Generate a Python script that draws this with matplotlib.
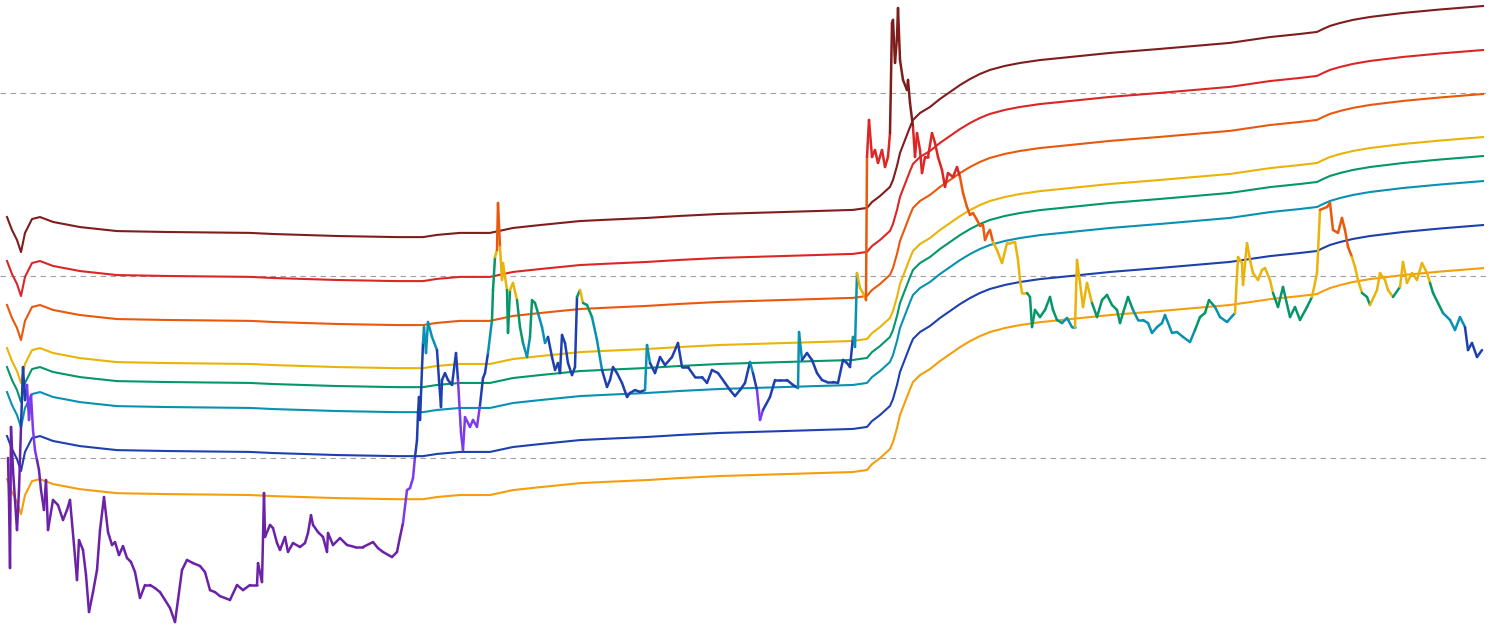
import numpy as np
import matplotlib.pyplot as plt
from matplotlib.collections import LineCollection

# day index and log10(price) (gridlines at 1, 10, 100)
band_day = [7, 12, 17, 21, 25, 32, 40, 53, 80, 117,
            167, 250, 273, 337, 397, 423, 437, 460, 490, 513,
            540, 580, 610, 647, 680, 720, 787, 853, 867, 872,
            880, 890, 893, 897, 900, 905, 910, 913, 920, 930,
            940, 950, 960, 970, 980, 990, 1005, 1020, 1040, 1060,
            1110, 1160, 1230, 1270, 1300, 1317, 1323, 1330, 1340, 1353,
            1370, 1403, 1440, 1483]
band_top_log = [1.322, 1.251, 1.196, 1.130, 1.235, 1.311, 1.322, 1.295, 1.267, 1.245,
                1.240, 1.235, 1.229, 1.218, 1.212, 1.212, 1.224, 1.235, 1.235, 1.262,
                1.278, 1.300, 1.308, 1.317, 1.328, 1.339, 1.350, 1.361, 1.372, 1.404,
                1.437, 1.487, 1.525, 1.602, 1.673, 1.744, 1.815, 1.854, 1.892, 1.925,
                1.969, 2.007, 2.045, 2.078, 2.106, 2.128, 2.150, 2.166, 2.182, 2.193,
                2.221, 2.243, 2.276, 2.308, 2.325, 2.336, 2.352, 2.369, 2.385, 2.402,
                2.418, 2.440, 2.459, 2.478]
# each band sits a fixed number of decades under the top one
band_offsets = [0, 0.241, 0.482, 0.718, 0.822, 0.959, 1.200, 1.436]
band_colors = ['#7f1d1d', '#dc2626', '#ea580c', '#eab308',
               '#059669', '#0891b2', '#1e40af', '#f59e0b']

price_day = [8, 9, 10, 11, 13, 15, 17, 19, 21, 23,
             25, 27, 29, 31, 33, 35, 37, 39, 41, 44,
             46, 48, 53, 58, 63, 67, 70, 74, 77, 79,
             83, 86, 89, 93, 97, 100, 104, 108, 112, 115,
             119, 123, 127, 131, 135, 140, 145, 150, 155, 160,
             165, 170, 175, 178, 182, 187, 193, 200, 205, 210,
             215, 220, 230, 237, 243, 250, 257, 258, 262, 264,
             265, 270, 273, 277, 280, 285, 288, 293, 300, 305,
             308, 311, 313, 318, 323, 327, 328, 333, 340, 347,
             355, 363, 373, 378, 383, 392, 397, 400, 403, 407,
             410, 413, 415, 417, 418, 419, 420, 423, 424, 426,
             428, 432, 437, 439, 441, 442, 445, 448, 452, 456,
             458, 461, 463, 465, 470, 473, 477, 480, 483, 485,
             488, 492, 493, 495, 497, 498, 500, 502, 503, 507,
             508, 510, 513, 517, 520, 523, 527, 530, 532, 535,
             538, 542, 545, 548, 552, 555, 558, 560, 562, 565,
             568, 572, 575, 577, 580, 583, 587, 592, 597, 602,
             607, 610, 613, 617, 622, 627, 630, 635, 640, 645,
             647, 650, 655, 660, 665, 672, 678, 682, 688, 695,
             702, 707, 712, 718, 725, 730, 735, 740, 745, 750,
             753, 757, 760, 763, 770, 775, 780, 787, 793, 798,
             799, 802, 807, 812, 817, 822, 827, 833, 838, 843,
             847, 850, 853, 855, 857, 860, 863, 866, 867, 869,
             872, 875, 878, 882, 885, 888, 890, 892, 893, 895,
             897, 898, 900, 903, 907, 908, 910, 913, 915, 917,
             920, 922, 925, 928, 932, 935, 938, 942, 945, 948,
             953, 957, 960, 963, 967, 970, 973, 977, 980, 983,
             985, 988, 990, 993, 997, 1002, 1007, 1010, 1015, 1018,
             1020, 1022, 1027, 1030, 1032, 1035, 1040, 1045, 1050, 1053,
             1057, 1062, 1067, 1072, 1075, 1077, 1080, 1083, 1087, 1092,
             1097, 1102, 1107, 1112, 1117, 1120, 1123, 1128, 1133, 1138,
             1143, 1148, 1152, 1157, 1162, 1165, 1172, 1177, 1183, 1190,
             1195, 1200, 1205, 1209, 1215, 1220, 1227, 1235, 1238, 1242,
             1243, 1247, 1250, 1253, 1258, 1262, 1265, 1270, 1273, 1278,
             1283, 1290, 1295, 1300, 1307, 1312, 1317, 1320, 1327, 1330,
             1333, 1338, 1342, 1345, 1348, 1352, 1355, 1358, 1362, 1367,
             1370, 1377, 1380, 1385, 1388, 1393, 1400, 1403, 1407, 1412,
             1417, 1422, 1427, 1430, 1433, 1438, 1443, 1450, 1455, 1460,
             1465, 1468, 1472, 1477, 1482]
price_log = [0.002, -0.228, -0.601, 0.172, -0.064, -0.228, -0.393, -0.174, 0.172, 0.500,
             0.319, 0.402, 0.210, 0.347, 0.155, 0.045, -0.009, -0.064, -0.174, -0.283,
             -0.119, -0.393, -0.228, -0.256, -0.338, -0.283, -0.228, -0.475, -0.667, -0.448,
             -0.502, -0.639, -0.842, -0.733, -0.612, -0.393, -0.212, -0.404, -0.475, -0.459,
             -0.530, -0.481, -0.546, -0.568, -0.623, -0.765, -0.694, -0.694, -0.711, -0.733,
             -0.776, -0.820, -0.897, -0.776, -0.612, -0.557, -0.574, -0.590, -0.623, -0.722,
             -0.733, -0.755, -0.776, -0.694, -0.722, -0.694, -0.694, -0.574, -0.678, -0.190,
             -0.431, -0.365, -0.382, -0.464, -0.502, -0.431, -0.513, -0.464, -0.486, -0.464,
             -0.409, -0.311, -0.365, -0.404, -0.431, -0.513, -0.409, -0.475, -0.437, -0.475,
             -0.486, -0.486, -0.459, -0.492, -0.513, -0.541, -0.513, -0.431, -0.355, -0.174,
             -0.163, -0.108, 0.007, 0.100, 0.248, 0.336, 0.210, 0.632, 0.719, 0.577,
             0.747, 0.665, 0.593, 0.429, 0.281, 0.429, 0.467, 0.429, 0.402, 0.577,
             0.429, 0.139, 0.045, 0.226, 0.172, 0.210, 0.172, 0.292, 0.440, 0.467,
             0.577, 0.758, 0.922, 1.103, 1.141, 1.399, 1.158, 0.977, 1.070, 0.922,
             0.687, 0.922, 0.961, 0.867, 0.719, 0.632, 0.555, 0.665, 0.867, 0.851,
             0.796, 0.719, 0.632, 0.665, 0.555, 0.484, 0.522, 0.467, 0.676, 0.632,
             0.522, 0.456, 0.500, 0.884, 0.922, 0.851, 0.840, 0.774, 0.648, 0.484,
             0.391, 0.429, 0.500, 0.467, 0.413, 0.336, 0.358, 0.374, 0.364, 0.374,
             0.621, 0.522, 0.467, 0.555, 0.511, 0.555, 0.632, 0.500, 0.500, 0.445,
             0.445, 0.413, 0.484, 0.467, 0.413, 0.374, 0.341, 0.374, 0.413, 0.528,
             0.467, 0.374, 0.210, 0.265, 0.336, 0.429, 0.429, 0.429, 0.402, 0.385,
             0.692, 0.539, 0.577, 0.539, 0.467, 0.429, 0.418, 0.418, 0.413, 0.539,
             0.522, 0.500, 0.665, 0.610, 1.015, 0.933, 0.906, 0.867, 1.651, 1.854,
             1.651, 1.689, 1.618, 1.689, 1.596, 1.651, 1.782, 2.385, 2.402, 2.166,
             2.308, 2.467, 2.182, 2.073, 2.018, 2.073, 1.947, 1.815, 1.651, 1.782,
             1.689, 1.563, 1.651, 1.651, 1.782, 1.728, 1.651, 1.580, 1.487, 1.563,
             1.541, 1.596, 1.541, 1.454, 1.377, 1.333, 1.344, 1.306, 1.273, 1.278,
             1.196, 1.235, 1.251, 1.185, 1.141, 1.070, 1.179, 1.179, 1.185, 1.087,
             0.977, 0.906, 0.906, 0.884, 0.719, 0.813, 0.774, 0.813, 0.884, 0.813,
             0.758, 0.741, 0.769, 0.719, 0.719, 1.087, 0.961, 0.829, 0.961, 0.851,
             0.774, 0.867, 0.895, 0.840, 0.813, 0.741, 0.796, 0.884, 0.813, 0.758,
             0.758, 0.741, 0.687, 0.719, 0.741, 0.785, 0.687, 0.692, 0.665, 0.637,
             0.703, 0.774, 0.796, 0.867, 0.829, 0.774, 0.747, 0.796, 1.103, 1.070,
             0.950, 1.179, 1.087, 1.015, 0.977, 1.032, 1.043, 0.977, 0.906, 0.829,
             0.939, 0.774, 0.829, 0.758, 0.829, 0.884, 1.015, 1.361, 1.377, 1.399,
             1.251, 1.235, 1.317, 1.251, 1.158, 1.103, 1.048, 0.977, 0.906, 0.884,
             0.840, 0.922, 1.015, 0.977, 0.922, 0.884, 0.939, 1.076, 0.961, 1.015,
             0.977, 1.070, 1.015, 0.961, 0.906, 0.851, 0.796, 0.758, 0.703, 0.774,
             0.719, 0.593, 0.632, 0.555, 0.593]

# colour of the price line, per stretch of days
zone_start = [8, 21, 28, 38, 405, 416, 423, 437, 458, 480,
              488, 492, 495, 497, 500, 507, 510, 517, 522, 530,
              540, 548, 577, 579, 582, 592, 600, 646, 649, 749,
              752, 756, 766, 798, 801, 852, 857, 866, 867, 890,
              913, 960, 993, 1027, 1060, 1076, 1090, 1135, 1195, 1215,
              1236, 1273, 1313, 1320, 1352, 1363, 1373, 1395, 1398, 1430,
              1442, 1465]
zone_color = ['#6b21a8', '#1e40af', '#7c3aed', '#6b21a8', '#7c3aed', '#1e40af', '#0891b2', '#1e40af', '#7c3aed', '#1e40af',
              '#0891b2', '#059669', '#eab308', '#ea580c', '#eab308', '#059669', '#eab308', '#059669', '#0891b2', '#059669',
              '#0891b2', '#1e40af', '#059669', '#eab308', '#059669', '#0891b2', '#1e40af', '#0891b2', '#1e40af', '#0891b2',
              '#1e40af', '#7c3aed', '#1e40af', '#0891b2', '#1e40af', '#0891b2', '#eab308', '#ea580c', '#dc2626', '#7f1d1d',
              '#dc2626', '#ea580c', '#eab308', '#059669', '#0891b2', '#eab308', '#059669', '#0891b2', '#059669', '#0891b2',
              '#eab308', '#059669', '#eab308', '#ea580c', '#eab308', '#059669', '#eab308', '#059669', '#eab308', '#059669',
              '#0891b2', '#1e40af']

grid_levels = [1, 10, 100]

fig = plt.figure(figsize=(14.9, 6.33), dpi=100)
ax = fig.add_axes([0, 0, 1, 1])
ax.set_yscale('log')

for lvl in grid_levels:
    ax.axhline(lvl, color='#a0a0a0', lw=0.8, ls=(0, (5, 4)), zorder=1)

bd = np.array(band_day)
top = np.array(band_top_log)
for off, c in zip(band_offsets, band_colors):
    ax.plot(bd, 10 ** (top - off), color=c, lw=1.5, zorder=2,
            solid_joinstyle='round')

x = np.array(price_day, dtype=float)
y = 10 ** np.array(price_log)
pts = np.column_stack([x, y]).reshape(-1, 1, 2)
segs = np.concatenate([pts[:-1], pts[1:]], axis=1)
mid = (x[:-1] + x[1:]) / 2
idx = np.searchsorted(zone_start, mid, side='right') - 1
lc = LineCollection(segs, colors=[zone_color[i] for i in idx], linewidths=1.8,
                    capstyle='round', joinstyle='round', zorder=3)
ax.add_collection(lc)

ax.set_xlim(0, 1490)
ax.set_ylim(10 ** -0.957, 10 ** 2.511)
ax.axis('off')

fig.savefig('out.png', dpi=100)
